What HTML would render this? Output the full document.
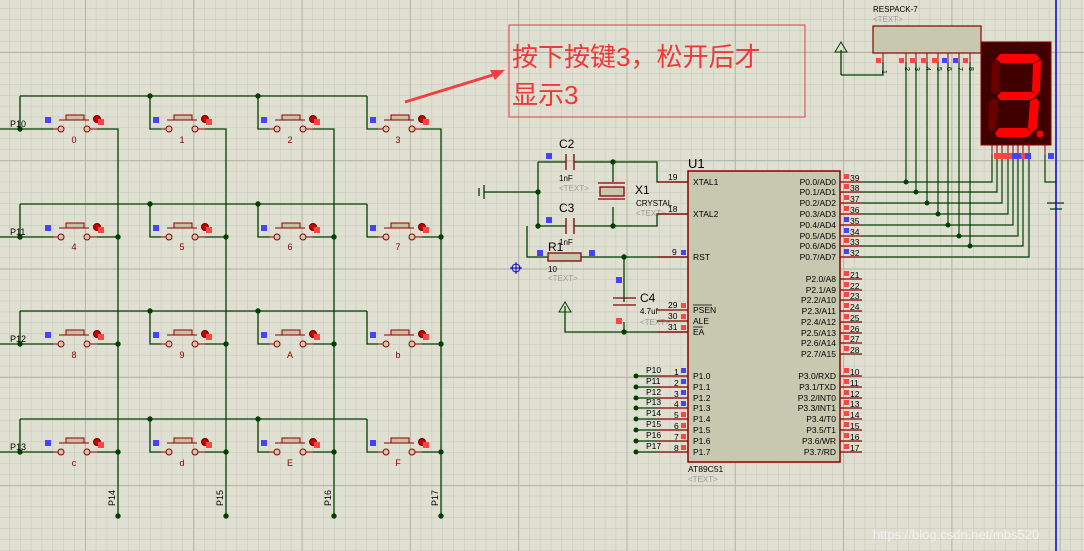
<!DOCTYPE html>
<html><head><meta charset="utf-8"><style>
html,body{margin:0;padding:0;background:#e0e0d2;}
svg{display:block}
text{font-family:"Liberation Sans","DejaVu Sans",sans-serif;}
</style></head><body>
<svg width="1084" height="551" viewBox="0 0 1084 551" xmlns="http://www.w3.org/2000/svg">
<defs>
<pattern id="mi" x="9.2" y="8.4" width="10.83" height="10.83" patternUnits="userSpaceOnUse">
<path d="M0 0V10.83M0 0H10.83" stroke="#c6c6b6" stroke-width="1" fill="none"/></pattern>
<pattern id="ma" x="85" y="52" width="108.3" height="108.3" patternUnits="userSpaceOnUse">
<path d="M0 0V108.3M0 0H108.3" stroke="#b4b4a4" stroke-width="2" fill="none"/></pattern>
<g id="btn">
<line x1="-8" y1="0" x2="-3" y2="0" stroke="#8b0000"/>
<line x1="29" y1="0" x2="36" y2="0" stroke="#8b0000"/>
<circle cx="0" cy="0" r="3" fill="#d0c8a8" stroke="#8b0000"/>
<circle cx="26" cy="0" r="3" fill="#d0c8a8" stroke="#8b0000"/>
<line x1="-2" y1="-9" x2="28" y2="-9" stroke="#8b0000"/>
<rect x="5" y="-14" width="18" height="5" fill="#c8c0a0" stroke="#8b0000"/>
<circle cx="36" cy="-10" r="3.5" fill="#c00" stroke="#600"/>
<rect x="37" y="-10" width="6" height="6" fill="#f44"/>
<rect x="-16" y="-12" width="6" height="6" fill="#44f"/>
</g>
</defs>
<rect width="1084" height="551" fill="#e0e0d2"/>
<rect width="1084" height="551" fill="url(#mi)"/>
<rect width="1084" height="551" fill="url(#ma)"/>

<!-- keypad wires -->
<g stroke="#004000" stroke-width="1.3" fill="none">
<path d="M20 96H367M20 96V129M150 96V129H161M258 96V129H269M367 96V129H378"/>
<path d="M20 204H367M20 204V237M150 204V237H161M258 204V237H269M367 204V237H378"/>
<path d="M20 311H367M20 311V344M150 311V344H161M258 311V344H269M367 311V344H378"/>
<path d="M20 419H367M20 419V452M150 419V452H161M258 419V452H269M367 419V452H378"/>
<path d="M0 129H53M0 237H53M0 344H53M0 452H53"/>
<path d="M97 129H118V516M205 129H226V516M313 129H334V516M422 129H441V516"/>
<path d="M97 237H118M205 237H226M313 237H334M422 237H441"/>
<path d="M97 344H118M205 344H226M313 344H334M422 344H441"/>
<path d="M97 452H118M205 452H226M313 452H334M422 452H441"/>
</g>
<g fill="#004000">
<circle cx="150" cy="96" r="2.7"/><circle cx="258" cy="96" r="2.7"/>
<circle cx="150" cy="204" r="2.7"/><circle cx="258" cy="204" r="2.7"/>
<circle cx="150" cy="311" r="2.7"/><circle cx="258" cy="311" r="2.7"/>
<circle cx="150" cy="419" r="2.7"/><circle cx="258" cy="419" r="2.7"/>
<circle cx="20" cy="129" r="2.7"/><circle cx="20" cy="237" r="2.7"/><circle cx="20" cy="344" r="2.7"/><circle cx="20" cy="452" r="2.7"/>
<circle cx="118" cy="237" r="2.7"/><circle cx="226" cy="237" r="2.7"/><circle cx="334" cy="237" r="2.7"/><circle cx="441" cy="237" r="2.7"/>
<circle cx="118" cy="344" r="2.7"/><circle cx="226" cy="344" r="2.7"/><circle cx="334" cy="344" r="2.7"/><circle cx="441" cy="344" r="2.7"/>
<circle cx="118" cy="452" r="2.7"/><circle cx="226" cy="452" r="2.7"/><circle cx="334" cy="452" r="2.7"/><circle cx="441" cy="452" r="2.7"/>
<circle cx="118" cy="516" r="2.7"/><circle cx="226" cy="516" r="2.7"/><circle cx="334" cy="516" r="2.7"/><circle cx="441" cy="516" r="2.7"/>
</g>
<use href="#btn" x="61" y="129"/><use href="#btn" x="169" y="129"/><use href="#btn" x="277" y="129"/><use href="#btn" x="386" y="129"/>
<use href="#btn" x="61" y="237"/><use href="#btn" x="169" y="237"/><use href="#btn" x="277" y="237"/><use href="#btn" x="386" y="237"/>
<use href="#btn" x="61" y="344"/><use href="#btn" x="169" y="344"/><use href="#btn" x="277" y="344"/><use href="#btn" x="386" y="344"/>
<use href="#btn" x="61" y="452"/><use href="#btn" x="169" y="452"/><use href="#btn" x="277" y="452"/><use href="#btn" x="386" y="452"/>
<g font-size="9" fill="#8b0000" text-anchor="middle">
<text x="74" y="143">0</text><text x="182" y="143">1</text><text x="290" y="143">2</text><text x="398" y="143">3</text>
<text x="74" y="250">4</text><text x="182" y="250">5</text><text x="290" y="250">6</text><text x="398" y="250">7</text>
<text x="74" y="358">8</text><text x="182" y="358">9</text><text x="290" y="358">A</text><text x="398" y="358">b</text>
<text x="74" y="466">c</text><text x="182" y="466">d</text><text x="290" y="466">E</text><text x="398" y="466">F</text>
</g>
<g font-size="9" fill="#000">
<text x="10" y="127">P10</text><text x="10" y="235">P11</text><text x="10" y="342">P12</text><text x="10" y="450">P13</text>
<text transform="translate(115,506) rotate(-90)">P14</text>
<text transform="translate(223,506) rotate(-90)">P15</text>
<text transform="translate(331,506) rotate(-90)">P16</text>
<text transform="translate(438,506) rotate(-90)">P17</text>
</g>

<!-- annotation -->
<rect x="509" y="25" width="296" height="92" fill="none" stroke="#e04040" stroke-width="1"/>
<text x="512" y="66" font-size="26" fill="#f03838" font-family="'Liberation Sans','Noto Sans CJK SC',sans-serif">按下按键3，松开后才</text>
<text x="512" y="104" font-size="26" fill="#f03838" font-family="'Liberation Sans','Noto Sans CJK SC',sans-serif">显示3</text>
<line x1="405" y1="102" x2="496" y2="74" stroke="#f04040" stroke-width="3"/>
<polygon points="505,70 490,70 495,80" fill="#f04040"/>

<!-- crystal section -->
<g stroke="#004000" stroke-width="1.3" fill="none">
<path d="M538 162H566M574 162H613H657V182H688"/>
<path d="M538 162V226H566M574 226H613H657V214H688"/>
<path d="M484 192H538"/>
<path d="M613 162V182M613 207V226"/>
<path d="M527 226V257H548M581 257H688"/>
<path d="M624 257V302M624 322V332H565V306M624 332H688"/>
<path d="M841 75H883V62M841 75V50"/>
</g>
<polygon points="565,302 559,312 571,312" fill="none" stroke="#004000"/>
<polygon points="841,42 835,52 847,52" fill="none" stroke="#004000"/>
<g stroke="#004000" stroke-width="1.3"><line x1="484" y1="185" x2="484" y2="199"/><line x1="479" y1="188" x2="479" y2="196"/></g>
<g fill="#004000">
<circle cx="613" cy="162" r="2.7"/><circle cx="538" cy="192" r="2.7"/><circle cx="538" cy="226" r="2.7"/><circle cx="613" cy="226" r="2.7"/>
<circle cx="624" cy="257" r="2.7"/><circle cx="624" cy="332" r="2.7"/>
</g>
<g stroke="#8b0000" stroke-width="1.3" fill="none">
<path d="M566 154V170M574 154V170M566 218V234M574 218V234"/>
<path d="M598 183H625M598 199H625"/>
<rect x="600" y="187" width="24" height="9" fill="#c8c8b0"/>
<rect x="548" y="253" width="33" height="8" fill="#c8c8b0"/>
<path d="M613 298H636M613 305H636"/>
</g>
<g font-size="12" fill="#000">
<text x="559" y="148">C2</text><text x="559" y="212">C3</text><text x="548" y="251">R1</text>
<text x="635" y="194">X1</text><text x="640" y="302">C4</text><text x="688" y="168" font-size="13">U1</text>
</g>
<g font-size="8" fill="#000">
<text x="559" y="181">1nF</text><text x="559" y="245">1nF</text><text x="548" y="272">10</text>
<text x="636" y="206">CRYSTAL</text><text x="640" y="314">4.7uf</text>
</g>
<g font-size="8" fill="#999">
<text x="559" y="191">&lt;TEXT&gt;</text><text x="636" y="216">&lt;TEXT&gt;</text><text x="548" y="281">&lt;TEXT&gt;</text>
<text x="640" y="325">&lt;TEXT&gt;</text><text x="688" y="482">&lt;TEXT&gt;</text><text x="873" y="22">&lt;TEXT&gt;</text>
</g>
<rect x="546" y="153" width="6" height="6" fill="#44f"/><rect x="546" y="217" width="6" height="6" fill="#44f"/>
<rect x="537" y="250" width="6" height="6" fill="#44f"/><rect x="589" y="250" width="6" height="6" fill="#44f"/>
<rect x="616" y="277" width="6" height="6" fill="#44f"/><rect x="616" y="318" width="6" height="6" fill="#f44"/>
<g stroke="#0000cc" fill="none"><circle cx="516" cy="268" r="4"/><path d="M510 268H522M516 262V274"/></g>

<!-- chip -->
<rect x="688" y="171" width="152" height="291" fill="#c8c8b0" stroke="#8b0000" stroke-width="1.5"/>
<g stroke="#8b0000" stroke-width="1.2">
<path d="M657 182H688M657 214H688M657 257H688M657 310H688M657 321H688M657 332H688"/>
<path d="M657 376H688M657 387H688M657 398H688M657 408H688M657 419H688M657 430H688M657 441H688M657 452H688"/>
<path d="M840 182H862M840 192H862M840 203H862M840 214H862M840 225H862M840 236H862M840 246H862M840 257H862"/>
<path d="M840 279H862M840 290H862M840 300H862M840 311H862M840 322H862M840 333H862M840 343H862M840 354H862"/>
<path d="M840 376H862M840 387H862M840 398H862M840 408H862M840 419H862M840 430H862M840 441H862M840 452H862"/>
</g>
<g stroke="#004000" stroke-width="1.3"><path d="M636 376H657M636 387H657M636 398H657M636 408H657M636 419H657M636 430H657M636 441H657M636 452H657"/></g>
<g fill="#004000"><circle cx="636" cy="376" r="2.5"/><circle cx="636" cy="387" r="2.5"/><circle cx="636" cy="398" r="2.5"/><circle cx="636" cy="408" r="2.5"/><circle cx="636" cy="419" r="2.5"/><circle cx="636" cy="430" r="2.5"/><circle cx="636" cy="441" r="2.5"/><circle cx="636" cy="452" r="2.5"/></g>
<g font-size="8.5" fill="#000">
<text x="646" y="373">P10</text><text x="646" y="384">P11</text><text x="646" y="395">P12</text><text x="646" y="405">P13</text>
<text x="646" y="416">P14</text><text x="646" y="427">P15</text><text x="646" y="438">P16</text><text x="646" y="449">P17</text>
<text x="668" y="180">19</text><text x="668" y="212">18</text><text x="672" y="255">9</text><text x="668" y="308">29</text><text x="668" y="319">30</text><text x="668" y="330">31</text>
<text x="674" y="375">1</text><text x="674" y="386">2</text><text x="674" y="397">3</text><text x="674" y="407">4</text><text x="674" y="418">5</text><text x="674" y="429">6</text><text x="674" y="440">7</text><text x="674" y="451">8</text>
<text x="693" y="185">XTAL1</text><text x="693" y="217">XTAL2</text><text x="693" y="260">RST</text>
<text x="693" y="313">PSEN</text><text x="693" y="324">ALE</text><text x="693" y="335">EA</text>
<text x="693" y="379">P1.0</text><text x="693" y="390">P1.1</text><text x="693" y="401">P1.2</text><text x="693" y="411">P1.3</text><text x="693" y="422">P1.4</text><text x="693" y="433">P1.5</text><text x="693" y="444">P1.6</text><text x="693" y="455">P1.7</text>
<text x="688" y="472">AT89C51</text>
</g>
<path d="M693 305H712M693 327H703" stroke="#000" stroke-width="0.8"/>
<g font-size="8.5" fill="#000" text-anchor="end">
<text x="836" y="185">P0.0/AD0</text><text x="836" y="195">P0.1/AD1</text><text x="836" y="206">P0.2/AD2</text><text x="836" y="217">P0.3/AD3</text>
<text x="836" y="228">P0.4/AD4</text><text x="836" y="239">P0.5/AD5</text><text x="836" y="249">P0.6/AD6</text><text x="836" y="260">P0.7/AD7</text>
<text x="836" y="282">P2.0/A8</text><text x="836" y="293">P2.1/A9</text><text x="836" y="303">P2.2/A10</text><text x="836" y="314">P2.3/A11</text>
<text x="836" y="325">P2.4/A12</text><text x="836" y="336">P2.5/A13</text><text x="836" y="346">P2.6/A14</text><text x="836" y="357">P2.7/A15</text>
<text x="836" y="379">P3.0/RXD</text><text x="836" y="390">P3.1/TXD</text><text x="836" y="401">P3.2/INT0</text><text x="836" y="411">P3.3/INT1</text>
<text x="836" y="422">P3.4/T0</text><text x="836" y="433">P3.5/T1</text><text x="836" y="444">P3.6/WR</text><text x="836" y="455">P3.7/RD</text>
</g>
<g font-size="8.5" fill="#000">
<text x="850" y="181">39</text><text x="850" y="191">38</text><text x="850" y="202">37</text><text x="850" y="213">36</text><text x="850" y="224">35</text><text x="850" y="235">34</text><text x="850" y="245">33</text><text x="850" y="256">32</text>
<text x="850" y="278">21</text><text x="850" y="289">22</text><text x="850" y="299">23</text><text x="850" y="310">24</text><text x="850" y="321">25</text><text x="850" y="332">26</text><text x="850" y="342">27</text><text x="850" y="353">28</text>
<text x="850" y="375">10</text><text x="850" y="386">11</text><text x="850" y="397">12</text><text x="850" y="407">13</text><text x="850" y="418">14</text><text x="850" y="429">15</text><text x="850" y="440">16</text><text x="850" y="451">17</text>
</g>
<g fill="#f44">
<rect x="844" y="174" width="5" height="5"/><rect x="844" y="184" width="5" height="5"/><rect x="844" y="195" width="5" height="5"/><rect x="844" y="206" width="5" height="5"/><rect x="844" y="238" width="5" height="5"/>
<rect x="844" y="271" width="5" height="5"/><rect x="844" y="282" width="5" height="5"/><rect x="844" y="292" width="5" height="5"/><rect x="844" y="303" width="5" height="5"/><rect x="844" y="314" width="5" height="5"/><rect x="844" y="325" width="5" height="5"/><rect x="844" y="335" width="5" height="5"/><rect x="844" y="346" width="5" height="5"/>
<rect x="844" y="368" width="5" height="5"/><rect x="844" y="379" width="5" height="5"/><rect x="844" y="390" width="5" height="5"/><rect x="844" y="400" width="5" height="5"/><rect x="844" y="411" width="5" height="5"/><rect x="844" y="422" width="5" height="5"/><rect x="844" y="433" width="5" height="5"/><rect x="844" y="444" width="5" height="5"/>
<rect x="681" y="303" width="5" height="5"/><rect x="681" y="314" width="5" height="5"/><rect x="681" y="325" width="5" height="5"/>
<rect x="681" y="412" width="5" height="5"/><rect x="681" y="423" width="5" height="5"/><rect x="681" y="434" width="5" height="5"/><rect x="681" y="445" width="5" height="5"/>
</g>
<g fill="#44f">
<rect x="844" y="217" width="5" height="5"/><rect x="844" y="228" width="5" height="5"/><rect x="844" y="249" width="5" height="5"/>
<rect x="681" y="250" width="5" height="5"/>
<rect x="681" y="368" width="5" height="5"/><rect x="681" y="379" width="5" height="5"/><rect x="681" y="390" width="5" height="5"/><rect x="681" y="401" width="5" height="5"/>
</g>

<!-- respack & 7seg -->
<text x="873" y="12" font-size="8" fill="#000">RESPACK-7</text>
<rect x="873" y="26" width="108" height="27" fill="#c8c8b0" stroke="#8b0000" stroke-width="1.2"/>
<g stroke="#8b0000" stroke-width="1"><path d="M883 53V62M906 53V62M916 53V62M927 53V62M938 53V62M948 53V62M959 53V62M970 53V62"/></g>
<g stroke="#004000" stroke-width="1.2" fill="none">
<path d="M862 182H992V155M906 62V182"/>
<path d="M862 192H997V155M916 62V192"/>
<path d="M862 203H1002V155M927 62V203"/>
<path d="M862 214H1008V155M938 62V214"/>
<path d="M862 225H1013V155M948 62V225"/>
<path d="M862 236H1018V155M959 62V236"/>
<path d="M862 246H1023V155M970 62V246"/>
<path d="M862 257H1029V155"/>
<path d="M1045 155V182H1056M1047 203H1064M1050 209H1062"/>
</g>
<g fill="#004000"><circle cx="906" cy="182" r="2.5"/><circle cx="916" cy="192" r="2.5"/><circle cx="927" cy="203" r="2.5"/><circle cx="938" cy="214" r="2.5"/><circle cx="948" cy="225" r="2.5"/><circle cx="959" cy="236" r="2.5"/><circle cx="970" cy="246" r="2.5"/></g>
<g fill="#f44"><rect x="876" y="58" width="5" height="5"/><rect x="899" y="58" width="5" height="5"/><rect x="910" y="58" width="5" height="5"/><rect x="921" y="58" width="5" height="5"/><rect x="932" y="58" width="5" height="5"/><rect x="963" y="58" width="5" height="5"/></g>
<g fill="#44f"><rect x="942" y="58" width="5" height="5"/><rect x="953" y="58" width="5" height="5"/></g>
<g font-size="7" fill="#000">
<text transform="translate(882,70) rotate(90)">1</text><text transform="translate(905,67) rotate(90)">2</text><text transform="translate(915,67) rotate(90)">3</text><text transform="translate(926,67) rotate(90)">4</text>
<text transform="translate(937,67) rotate(90)">5</text><text transform="translate(947,67) rotate(90)">6</text><text transform="translate(958,67) rotate(90)">7</text><text transform="translate(969,67) rotate(90)">8</text>
</g>
<rect x="981" y="42" width="70" height="103" fill="#400000" stroke="#8b0000" stroke-width="1"/>
<g fill="#f00">
<polygon points="1000,54 1036,54 1040,59 1034,63 1001,63 996,59"/>
<polygon points="1041,60 1040,91 1036,96 1032,91 1033,64"/>
<polygon points="997,96 1001,92 1032,92 1036,96 1031,100 1000,100"/>
<polygon points="1036,98 1039,102 1037,128 1032,133 1028,128 1030,101"/>
<polygon points="995,133 999,128 1027,128 1032,133 1027,137 997,137"/>
<circle cx="1040" cy="134" r="3.5"/>
</g>
<g fill="#6a0000"><polygon points="995,60 1000,64 999,91 995,95 991,91 992,64"/><polygon points="994,98 998,102 996,128 991,132 988,128 989,102"/></g>
<g stroke="#8b0000"><path d="M992 145V155M997 145V155M1002 145V155M1008 145V155M1013 145V155M1018 145V155M1023 145V155M1029 145V155M1045 145V155"/></g>
<rect x="994" y="153" width="18" height="6" fill="#f44"/><rect x="1012" y="153" width="9" height="6" fill="#44f"/><rect x="1021" y="153" width="4" height="6" fill="#f44"/><rect x="1025" y="153" width="6" height="6" fill="#44f"/><rect x="1048" y="153" width="6" height="6" fill="#44f"/>
<line x1="1056" y1="0" x2="1056" y2="551" stroke="#0000dd" stroke-width="1.5"/>

<text x="873" y="539" font-size="13" fill="#f4f4f4" opacity="0.9">https://blog.csdn.net/mbs520</text>
</svg>
</body></html>
